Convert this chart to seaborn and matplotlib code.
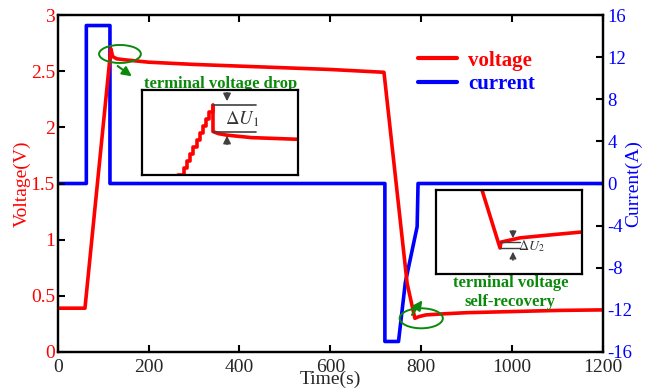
import matplotlib
matplotlib.use("Agg")
import matplotlib.pyplot as plt
import seaborn as sns
from matplotlib.patches import Ellipse
from matplotlib.lines import Line2D

# ---------------- data ----------------
time_v = [0, 60, 117, 121, 130, 150, 200, 300, 400, 500, 600, 718, 769, 786, 795, 810, 850, 900, 1000, 1100, 1200]
voltage = [0.39, 0.39, 2.70, 2.63, 2.61, 2.60, 2.58, 2.56, 2.545, 2.53, 2.515, 2.49, 0.61, 0.30, 0.315, 0.33, 0.34, 0.35, 0.36, 0.37, 0.375]

time_i = [0, 63, 63, 115, 115, 720, 720, 750, 765, 791, 793, 1200]
current = [0, 0, 15, 15, 0, 0, -15, -15, -9.4, -4.1, 0, 0]

# inset 1 (zoom on terminal voltage drop)
ins1_stair_t = [111.5, 112.5, 113.5, 114.5, 115.5, 116.5, 117.5, 118.5, 119.5, 120.5, 121.5, 122.75]
ins1_stair_v = [2.300, 2.300, 2.337, 2.374, 2.411, 2.448, 2.485, 2.521, 2.558, 2.595, 2.632, 2.669]
ins1_drop_t = [122.75, 122.75, 124.5, 127, 135, 150]
ins1_drop_v = [2.669, 2.530, 2.519, 2.5115, 2.498, 2.489]

# inset 2 (zoom on self-recovery)
ins2_t = [788.9, 796.3, 796.7, 804.5, 812.7, 820.9, 830.0]
ins2_v = [0.400, 0.2965, 0.307, 0.3145, 0.318, 0.3214, 0.325]

x_ticks = [0, 200, 400, 600, 800, 1000, 1200]
v_ticks = [0, 0.5, 1, 1.5, 2, 2.5, 3]
v_ticklabels = ["0", "0.5", "1", "1.5", "2", "2.5", "3"]
i_ticks = [-16, -12, -8, -4, 0, 4, 8, 12, 16]

# ---------------- style ----------------
sns.set_style("ticks")
plt.rcParams['font.family'] = ['Liberation Serif', 'DejaVu Serif']
plt.rcParams['axes.unicode_minus'] = False
plt.rcParams['mathtext.fontset'] = 'stix'

RED = '#ff0000'
BLUE = '#0000ff'
GREEN = '#0a8a0a'
GRAY = '#404040'
FS = 14

W, H = 645, 390
fig = plt.figure(figsize=(W / 100, H / 100), dpi=100)

def fr(x0, y0, x1, y1):
    return [x0 / W, 1 - y1 / H, (x1 - x0) / W, (y1 - y0) / H]

ax = fig.add_axes(fr(57.7, 15, 603, 352))
ax2 = ax.twinx()

sns.lineplot(x=time_i, y=current, ax=ax2, color=BLUE, lw=2.6, estimator=None, sort=False)
sns.lineplot(x=time_v, y=voltage, ax=ax, color=RED, lw=2.6, estimator=None, sort=False)

ax.set_zorder(ax2.get_zorder() + 1)
ax.patch.set_visible(False)

ax.set_xlim(0, 1200)
ax.set_ylim(0, 3)
ax2.set_ylim(-16, 16)
ax.set_xticks(x_ticks)
ax.set_xticklabels([str(t) for t in x_ticks], fontsize=FS)
ax.set_yticks(v_ticks)
ax.set_yticklabels(v_ticklabels, fontsize=FS, color=RED)
ax2.set_yticks(i_ticks)
ax2.set_yticklabels([str(t) for t in i_ticks], fontsize=FS - 0.5, color=BLUE)

ax.tick_params(axis='both', direction='in', length=5, width=1.5, color='black', pad=2, top=True)
ax.tick_params(axis='x', pad=5)
ax2.tick_params(axis='y', direction='in', length=5, width=1.5, color='black', pad=3)
for a in (ax, ax2):
    for s in a.spines.values():
        s.set_linewidth(1.6)
        s.set_color('black')

ax.set_xlabel("Time(s)", fontsize=FS, labelpad=-4)
ax.set_ylabel("Voltage(V)", fontsize=FS, color=RED, labelpad=0)
ax2.set_ylabel("Current(A)", fontsize=FS, color=BLUE, labelpad=-5)

# ellipses and annotation arrows
ax.add_patch(Ellipse((137, 2.653), 92, 0.16, fill=False, edgecolor=GREEN, lw=1.4, zorder=5))
ax.add_patch(Ellipse((800, 0.30), 95, 0.178, fill=False, edgecolor=GREEN, lw=1.4, zorder=5))
ax.annotate("", xy=(168, 2.44), xytext=(127, 2.56),
            arrowprops=dict(arrowstyle='-|>', color=GREEN, lw=1.5, mutation_scale=14))
ax.annotate("", xy=(806, 0.48), xytext=(776, 0.31),
            arrowprops=dict(arrowstyle='-|>', color=GREEN, lw=1.5, mutation_scale=14))
ax.text(358, 2.39, "terminal voltage drop", color=GREEN, fontsize=12, fontweight='bold',
        ha='center', va='center')
ax.text(996, 0.614, "terminal voltage", color=GREEN, fontsize=12, fontweight='bold',
        ha='center', va='center')
ax.text(996, 0.445, "self-recovery", color=GREEN, fontsize=12, fontweight='bold',
        ha='center', va='center')

# legend
handles = [Line2D([], [], color=RED, lw=3), Line2D([], [], color=BLUE, lw=3)]
fig.legend(handles=handles, labels=['voltage', 'current'], loc='upper left',
           bbox_to_anchor=(399 / W, 1 - 32 / H), frameon=False,
           prop=dict(family='Liberation Serif', weight='bold', size=15),
           labelcolor=[RED, BLUE], handlelength=1.87, handletextpad=0.55, labelspacing=0.15)

# inset 1
ia = fig.add_axes(fr(142, 90, 298, 175))
ia.set_zorder(ax.get_zorder() + 2)
sns.lineplot(x=ins1_stair_t, y=ins1_stair_v, ax=ia, color=RED, lw=2.6, estimator=None, sort=False,
             drawstyle='steps-post')
sns.lineplot(x=ins1_drop_t, y=ins1_drop_v, ax=ia, color=RED, lw=2.6, estimator=None, sort=False)
ia.set_xlim(100, 150)
ia.set_ylim(2.30, 2.75)
ia.set_xticks([]); ia.set_yticks([])
ia.set_xlabel(""); ia.set_ylabel("")
for s in ia.spines.values():
    s.set_linewidth(1.6); s.set_color('black')
ia.plot([0.455, 0.73], [0.82, 0.82], transform=ia.transAxes, color=GRAY, lw=1.2)
ia.plot([0.455, 0.73], [0.51, 0.51], transform=ia.transAxes, color=GRAY, lw=1.2)
ia.annotate("", xy=(0.545, 0.835), xytext=(0.545, 1.0), xycoords='axes fraction',
            arrowprops=dict(arrowstyle='-|>', color=GRAY, lw=1.2, mutation_scale=11), annotation_clip=False)
ia.annotate("", xy=(0.545, 0.495), xytext=(0.545, 0.33), xycoords='axes fraction',
            arrowprops=dict(arrowstyle='-|>', color=GRAY, lw=1.2, mutation_scale=11), annotation_clip=False)
ia.text(0.53, 0.655, r"$\Delta U_1$", transform=ia.transAxes, fontsize=13.5, color='#333333',
        ha='left', va='center')

# inset 2
ib = fig.add_axes(fr(436, 190, 582, 274))
ib.set_zorder(ax.get_zorder() + 2)
sns.lineplot(x=ins2_t, y=ins2_v, ax=ib, color=RED, lw=2.6, estimator=None, sort=False)
ib.set_xlim(770, 830)
ib.set_ylim(0.25, 0.40)
ib.set_xticks([]); ib.set_yticks([])
ib.set_xlabel(""); ib.set_ylabel("")
for s in ib.spines.values():
    s.set_linewidth(1.6); s.set_color('black')
ib.plot([0.438, 0.575], [0.381, 0.381], transform=ib.transAxes, color=GRAY, lw=1.0)
ib.plot([0.438, 0.575], [0.31, 0.31], transform=ib.transAxes, color=GRAY, lw=1.0)
ib.annotate("", xy=(0.527, 0.393), xytext=(0.527, 0.55), xycoords='axes fraction',
            arrowprops=dict(arrowstyle='-|>', color=GRAY, lw=1.0, mutation_scale=10))
ib.annotate("", xy=(0.527, 0.298), xytext=(0.527, 0.13), xycoords='axes fraction',
            arrowprops=dict(arrowstyle='-|>', color=GRAY, lw=1.0, mutation_scale=10))
ib.text(0.565, 0.33, r"$\Delta U_2$", transform=ib.transAxes, fontsize=10, color='#333333',
        ha='left', va='center')

fig.savefig("out.png", dpi=100)
